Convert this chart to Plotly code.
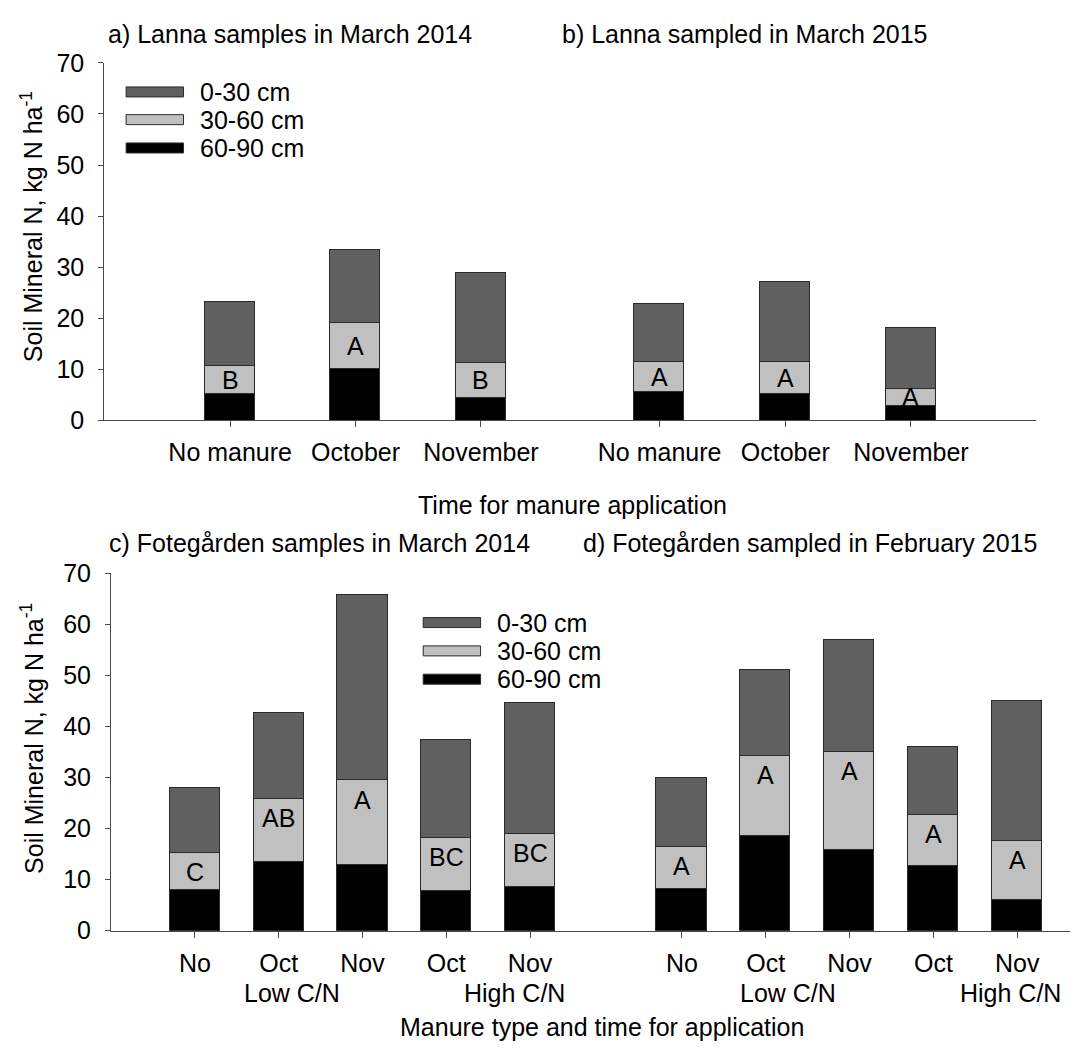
import plotly.graph_objects as go

W, H = 1081, 1054
FONT = "Liberation Sans, Arial, sans-serif"
FS = 25

# ---------------- data ----------------
layers = ["0-30 cm", "30-60 cm", "60-90 cm"]
layer_colors = ["#606060", "#c0c0c0", "#000000"]

lanna_cats = ["No manure", "October", "November"]
fote_cats = ["No", "Oct", "Nov", "Oct", "Nov"]

# a) Lanna samples in March 2014
a_0_30 = [12.5, 14.2, 17.6]
a_30_60 = [5.5, 9.1, 6.7]
a_60_90 = [5.2, 10.0, 4.5]
a_letters = ["B", "A", "B"]

# b) Lanna sampled in March 2015
b_0_30 = [11.3, 15.7, 12.0]
b_30_60 = [5.9, 6.2, 3.4]
b_60_90 = [5.6, 5.2, 2.8]
b_letters = ["A", "A", "A"]

# c) Fotegården samples in March 2014
c_0_30 = [12.8, 16.8, 36.2, 19.2, 25.6]
c_30_60 = [7.2, 12.3, 16.5, 10.5, 10.5]
c_60_90 = [8.0, 13.4, 12.9, 7.7, 8.5]
c_letters = ["C", "AB", "A", "BC", "BC"]

# d) Fotegården sampled in February 2015
d_0_30 = [13.5, 16.9, 21.9, 13.2, 27.5]
d_30_60 = [8.2, 15.6, 19.25, 10.0, 11.6]
d_60_90 = [8.2, 18.6, 15.75, 12.7, 5.9]
d_letters = ["A", "A", "A", "A", "A"]

titles = ["a) Lanna samples in March 2014", "b) Lanna sampled in March 2015",
          "c) Fotegården samples in March 2014", "d) Fotegården sampled in February 2015"]
y_title = "Soil Mineral N, kg N ha<sup>-1</sup>"
x_title_top = "Time for manure application"
x_title_bottom = "Manure type and time for application"
group_labels = ["Low C/N", "High C/N"]

# mapping from target picture pixels to figure paper coordinates
# (compensates the page offset / scaling seen in the photographed output)
SX, OX = 0.993, 8.7
SY, OY = 0.973, 22.4


def px(v):
    return ((v - OX) / SX) / W


def py(v):
    return 1 - ((v - OY) / SY) / H


fig = go.Figure()

panels = [
    ("x", "y", lanna_cats, a_0_30, a_30_60, a_60_90, a_letters, 0.4, "center"),
    ("x2", "y2", lanna_cats, b_0_30, b_30_60, b_60_90, b_letters, 0.4, "center"),
    ("x3", "y3", fote_cats, c_0_30, c_30_60, c_60_90, c_letters, 0.6, "top"),
    ("x4", "y4", fote_cats, d_0_30, d_30_60, d_60_90, d_letters, 0.6, "top"),
]

annotations = []
for xa, ya, cats, s1, s2, s3, letters, bw, lpos in panels:
    xs = list(range(len(cats)))
    for name, vals, col in [(layers[2], s3, layer_colors[2]),
                            (layers[1], s2, layer_colors[1]),
                            (layers[0], s1, layer_colors[0])]:
        fig.add_trace(go.Bar(x=xs, y=vals, name=name, width=bw, xaxis=xa, yaxis=ya,
                             marker=dict(color=col, line=dict(color="#2a2a2a", width=1)),
                             showlegend=False))
    for i, lt in enumerate(letters):
        if lpos == "center":
            yy = s3[i] + s2[i] / 2
            ys = 0
        else:
            yy = s3[i] + s2[i]
            ys = -19
        annotations.append(dict(x=xs[i], y=yy, xref=xa, yref=ya, text=lt, showarrow=False,
                                yanchor="middle", xanchor="center", yshift=ys,
                                font=dict(size=FS, color="black")))

# axes geometry (target picture pixels)
top_y0, top_y1 = 420.7, 63.3
bot_y0, bot_y1 = 930.7, 573.3
axcol = "#4a4a4a"
common_x = dict(showline=True, linecolor=axcol, linewidth=1, ticks="outside", ticklen=6,
                tickcolor=axcol, showgrid=False, zeroline=False, ticklabelstandoff=4,
                tickfont=dict(size=FS, color="black", family=FONT))
common_y = dict(range=[0, 70], showgrid=False, zeroline=False)
vis_y = dict(showline=True, linecolor=axcol, ticks="outside", ticklen=5, tickcolor=axcol,
             dtick=10, ticklabelstandoff=9, tickfont=dict(size=FS, color="black", family=FONT))

fig.update_layout(
    xaxis=dict(domain=[px(104.3), px(567)], range=[-1.004, 2.712], anchor="y",
               tickvals=[0, 1, 2], ticktext=lanna_cats, **common_x),
    xaxis2=dict(domain=[px(567), px(1030)], range=[-0.711, 2.999], anchor="y2",
                tickvals=[0, 1, 2], ticktext=lanna_cats, **common_x),
    xaxis3=dict(domain=[px(111), px(602)], range=[-1.001, 4.900], anchor="y3",
                tickvals=list(range(5)), ticktext=fote_cats, **common_x),
    xaxis4=dict(domain=[px(602), px(1063)], range=[-0.913, 4.627], anchor="y4",
                tickvals=list(range(5)), ticktext=fote_cats, **common_x),
    yaxis=dict(domain=[py(top_y0), py(top_y1)], anchor="x", **vis_y, **common_y),
    yaxis2=dict(domain=[py(top_y0), py(top_y1)], anchor="x2", visible=False, **common_y),
    yaxis3=dict(domain=[py(bot_y0), py(bot_y1)], anchor="x3", **vis_y, **common_y),
    yaxis4=dict(domain=[py(bot_y0), py(bot_y1)], anchor="x4", visible=False, **common_y),
)

# panel titles
for t, (x0, y0) in zip(titles, [(106, 34), (557, 34), (107, 543), (578, 543)]):
    annotations.append(dict(x=px(x0), y=py(y0), xref="paper", yref="paper", text=t,
                            showarrow=False, xanchor="left", yanchor="middle",
                            font=dict(size=FS, color="black")))

# y axis titles
for yc in [226.5, 738]:
    annotations.append(dict(x=px(32.5), y=py(yc), xref="paper", yref="paper", text=y_title,
                            textangle=-90, showarrow=False, xanchor="center", yanchor="middle",
                            font=dict(size=FS, color="black")))

# x axis titles
annotations.append(dict(x=px(569), y=py(505), xref="paper", yref="paper", text=x_title_top,
                        showarrow=False, xanchor="center", yanchor="middle",
                        font=dict(size=FS, color="black")))
annotations.append(dict(x=px(599), y=py(1027), xref="paper", yref="paper", text=x_title_bottom,
                        showarrow=False, xanchor="center", yanchor="middle",
                        font=dict(size=FS, color="black")))

# group labels under the Fotegården panels
for xa, xpos in [("x3", [1.16, 3.82]), ("x4", [1.27, 3.92])]:
    for g, xv in zip(group_labels, xpos):
        annotations.append(dict(x=xv, y=py(993), xref=xa, yref="paper", text=g,
                                showarrow=False, xanchor="center", yanchor="middle",
                                font=dict(size=FS, color="black")))

# legends drawn as long flat swatches like the original
shapes = []
for (bx0, bx1, tx, rows) in [(126, 183, 197, [92.3, 120, 148.3]),
                              (421, 478, 492.7, [622.7, 651, 679.3])]:
    for name, col, yc in zip(layers, layer_colors, rows):
        shapes.append(dict(type="rect", xref="paper", yref="paper",
                           x0=px(bx0), x1=px(bx1), y0=py(yc + 5), y1=py(yc - 5),
                           fillcolor=col, line=dict(color="#2a2a2a", width=1)))
        annotations.append(dict(x=px(tx), y=py(yc), xref="paper", yref="paper", text=name,
                                showarrow=False, xanchor="left", yanchor="middle",
                                font=dict(size=FS, color="black")))

fig.update_layout(
    width=W, height=H, margin=dict(l=0, r=0, t=0, b=0),
    paper_bgcolor="white", plot_bgcolor="white",
    barmode="stack", bargap=0,
    font=dict(family=FONT, size=FS, color="black"),
    annotations=annotations, shapes=shapes, showlegend=False,
)

fig.write_html("out.html")
